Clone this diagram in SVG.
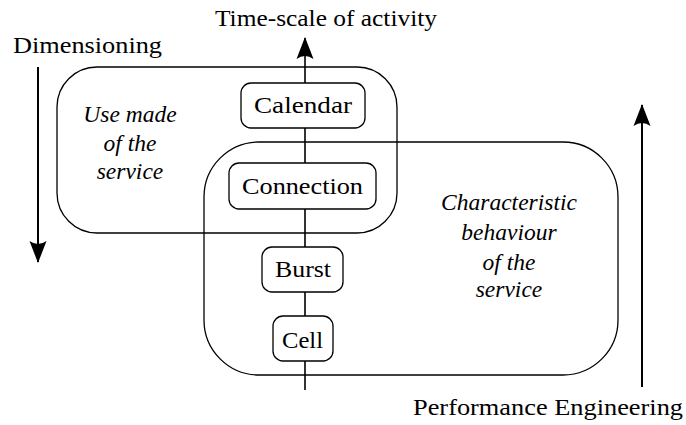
<svg xmlns="http://www.w3.org/2000/svg" width="686" height="425" viewBox="0 0 686 425">
<defs>
<marker id="ah" markerWidth="22" markerHeight="18" viewBox="0 0 22 18" refX="21" refY="9" orient="auto" markerUnits="userSpaceOnUse">
<path d="M22 9 L0 0.5 Q6 9 0 17.5 Z" fill="#000"/>
</marker>
<style>
.frame{fill:none;stroke:#000;stroke-width:1.3}
.node{fill:#fff;stroke:#000;stroke-width:1.3}
.ax{stroke:#000;stroke-width:2;fill:none}
.axc{stroke:#000;stroke-width:1.6;fill:none}
</style>
</defs>
<g id="frames">
<rect id="use-frame" class="frame" x="57" y="67" width="340" height="166" rx="40" ry="40"/>
<rect id="char-frame" class="frame" x="204" y="142" width="414" height="233" rx="55" ry="55"/>
</g>
<g id="connectors">
<line class="axc" x1="305" y1="390" x2="305" y2="38" marker-end="url(#ah)"/>
<line class="ax" x1="38" y1="67" x2="38" y2="262" marker-end="url(#ah)"/>
<line class="ax" x1="642" y1="387" x2="642" y2="105" marker-end="url(#ah)"/>
</g>
<g id="calendar"><rect class="node" x="241" y="83" width="124" height="45" rx="10"/><text font-family="Liberation Serif" font-size="24" text-anchor="middle" x="303" y="113" textLength="98" lengthAdjust="spacingAndGlyphs">Calendar</text></g>
<g id="connection"><rect class="node" x="229" y="163" width="147" height="46" rx="10"/><text font-family="Liberation Serif" font-size="24" text-anchor="middle" x="302.5" y="194" textLength="121" lengthAdjust="spacingAndGlyphs">Connection</text></g>
<g id="burst"><rect class="node" x="262" y="247" width="81" height="45" rx="10"/><text font-family="Liberation Serif" font-size="24" text-anchor="middle" x="303" y="277" textLength="56" lengthAdjust="spacingAndGlyphs">Burst</text></g>
<g id="cell"><rect class="node" x="273" y="316" width="60" height="45" rx="10"/><text font-family="Liberation Serif" font-size="24" text-anchor="middle" x="302.5" y="348" textLength="41" lengthAdjust="spacingAndGlyphs">Cell</text></g>
<g id="labels">
<text font-family="Liberation Serif" font-size="24" x="215" y="26" textLength="222" lengthAdjust="spacingAndGlyphs">Time-scale of activity</text>
<text font-family="Liberation Serif" font-size="24" x="13" y="53" textLength="149" lengthAdjust="spacingAndGlyphs">Dimensioning</text>
<text font-family="Liberation Serif" font-size="24" x="413" y="415" textLength="270" lengthAdjust="spacingAndGlyphs">Performance Engineering</text>
<text font-family="Liberation Serif" font-size="23.5" font-style="italic" text-anchor="middle" x="130" y="122">Use made</text>
<text font-family="Liberation Serif" font-size="23.5" font-style="italic" text-anchor="middle" x="130" y="151">of the</text>
<text font-family="Liberation Serif" font-size="23.5" font-style="italic" text-anchor="middle" x="130" y="179">service</text>
<text font-family="Liberation Serif" font-size="23.5" font-style="italic" text-anchor="middle" x="509" y="210">Characteristic</text>
<text font-family="Liberation Serif" font-size="23.5" font-style="italic" text-anchor="middle" x="509" y="240">behaviour</text>
<text font-family="Liberation Serif" font-size="23.5" font-style="italic" text-anchor="middle" x="509" y="270">of the</text>
<text font-family="Liberation Serif" font-size="23.5" font-style="italic" text-anchor="middle" x="509" y="297">service</text>
</g>
</svg>
